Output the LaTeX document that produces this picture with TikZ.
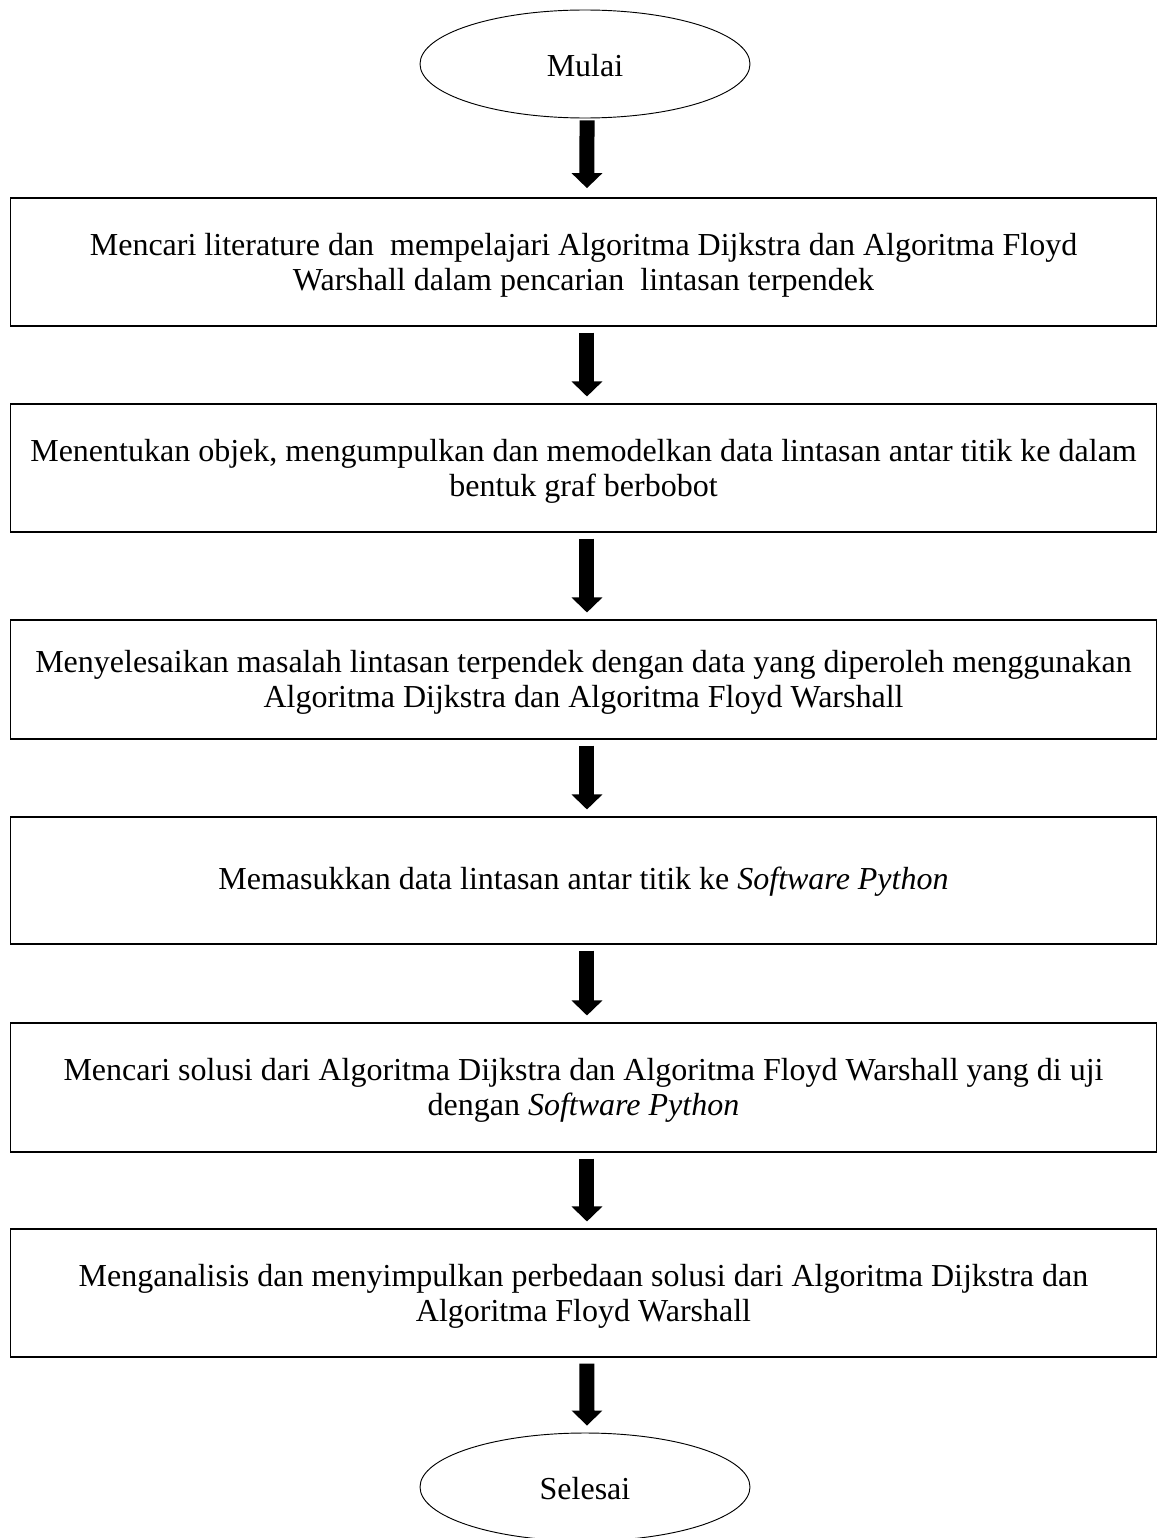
\documentclass[tikz,border=0pt]{standalone}
\usepackage{fontspec}
\setmainfont{Liberation Serif}
\usetikzlibrary{shapes.geometric,arrows.meta}
\begin{document}
\begin{tikzpicture}[x=0.75pt,y=-0.75pt,
  txt/.style={font=\fontsize{24}{26.25}\selectfont,text height=46.25pt,text depth=4.2pt},
  oneline/.style={text height=20pt,text depth=7.2pt},
  stepbox/.style={draw=black,line width=0.8pt,rectangle,inner sep=0pt,minimum width=859.5pt,
     align=center,txt},
  term/.style={draw=black,line width=0.7pt,ellipse,inner sep=0pt,minimum width=247.5pt,minimum height=81pt,txt,text height=20pt,text depth=1pt},
  bigarrow/.style={line width=11.25pt,-{Triangle[width=22.5pt,length=11.25pt]}}
]
\useasboundingbox (0,0) rectangle (1157,1538);
\node[term] (start) at (585,64) {Mulai};
\node[stepbox,minimum height=96pt] (b1) at (583.5,262) {Mencari literature dan\ \ mempelajari Algoritma Dijkstra dan Algoritma Floyd\\Warshall dalam pencarian\ \ lintasan terpendek};
\node[stepbox,minimum height=96pt] (b2) at (583.5,468) {Menentukan objek, mengumpulkan dan memodelkan data lintasan antar titik ke dalam\\bentuk graf berbobot};
\node[stepbox,minimum height=89.25pt] (b3) at (583.5,679.5) {Menyelesaikan masalah lintasan terpendek dengan data yang diperoleh menggunakan\\Algoritma Dijkstra dan Algoritma Floyd Warshall};
\node[stepbox,oneline,minimum height=95.25pt] (b4) at (583.5,880.5) {Memasukkan data lintasan antar titik ke \textit{Software Python}};
\node[stepbox,minimum height=96.75pt] (b5) at (583.5,1087.5) {Mencari solusi dari Algoritma Dijkstra dan Algoritma Floyd Warshall yang di uji\\dengan \textit{Software Python}};
\node[stepbox,minimum height=96pt] (b6) at (583.5,1293) {Menganalisis dan menyimpulkan perbedaan solusi dari Algoritma Dijkstra dan\\Algoritma Floyd Warshall};
\node[term] (stop) at (585,1487) {Selesai};
\draw[bigarrow] ([xshift=1.5pt,yshift=-1.5pt]start.south) -- ([xshift=2.6pt,yshift=7pt]b1.north);
\draw[bigarrow] ([xshift=2.6pt,yshift=-4.5pt]b1.south) -- ([xshift=2.6pt,yshift=5.25pt]b2.north);
\draw[bigarrow] ([xshift=2.6pt,yshift=-4.5pt]b2.south) -- ([xshift=2.6pt,yshift=5.25pt]b3.north);
\draw[bigarrow] ([xshift=2.6pt,yshift=-4.5pt]b3.south) -- ([xshift=2.6pt,yshift=5.25pt]b4.north);
\draw[bigarrow] ([xshift=2.6pt,yshift=-4.5pt]b4.south) -- ([xshift=2.6pt,yshift=5.25pt]b5.north);
\draw[bigarrow] ([xshift=2.6pt,yshift=-4.5pt]b5.south) -- ([xshift=2.6pt,yshift=5.25pt]b6.north);
\draw[bigarrow] ([xshift=2.6pt,yshift=-4.5pt]b6.south) -- ([xshift=1.5pt,yshift=5.25pt]stop.north);
\end{tikzpicture}
\end{document}
